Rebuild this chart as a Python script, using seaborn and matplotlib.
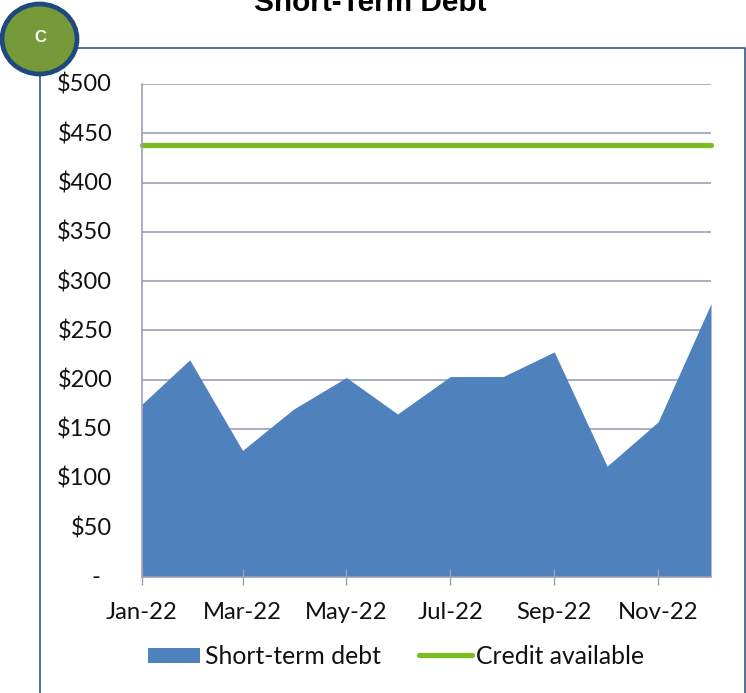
import matplotlib
matplotlib.use("Agg")
import matplotlib.pyplot as plt
import matplotlib.ticker as mticker
import matplotlib.transforms as mtransforms
from matplotlib.patches import Ellipse, Rectangle
from matplotlib.lines import Line2D
import pandas as pd
import seaborn as sns

months = ["2022-01-31", "2022-02-28", "2022-03-31", "2022-04-30", "2022-05-31", "2022-06-30",
          "2022-07-31", "2022-08-31", "2022-09-30", "2022-10-31", "2022-11-30", "2022-12-31"]
short_term_debt = [175, 220, 128, 170, 202, 165, 203, 203, 228, 112, 157, 277]
credit_available = [438] * 12
y_ticks = [0, 50, 100, 150, 200, 250, 300, 350, 400, 450, 500]
y_labels = ["-", "$50", "$100", "$150", "$200", "$250", "$300", "$350", "$400", "$450", "$500"]
x_ticks = ["2022-01-31", "2022-03-31", "2022-05-31", "2022-07-31", "2022-09-30", "2022-11-30"]
x_labels = ["Jan-22", "Mar-22", "May-22", "Jul-22", "Sep-22", "Nov-22"]

sns.set_theme(style="white")
plt.rcParams["font.family"] = ["Lato", "DejaVu Sans"]

W, H = 746, 693
df = pd.DataFrame({"month": pd.to_datetime(months), "debt": short_term_debt, "credit": credit_available})

fig = plt.figure(figsize=(W / 100, H / 100), dpi=100, facecolor="white")
ax = fig.add_axes([142 / W, 1 - 576.5 / H, (711 - 142) / W, 492.5 / H])

GRID = "#9C9FB6"
BLUE = "#4F81BD"
GREEN = "#7CBB22"
TEXT = "#111111"

ax.set_axisbelow(True)
ax.yaxis.grid(True, color=GRID, lw=1.2)
ax.xaxis.grid(False)
ax.fill_between(df["month"], df["debt"], 0, color=BLUE, lw=0, zorder=2)
sns.lineplot(data=df, x="month", y="credit", color=GREEN, lw=3.8, ax=ax, zorder=3,
             solid_capstyle="round", legend=False, clip_on=False)

ax.set_xlim(df["month"].iloc[0], df["month"].iloc[-1])
ax.set_ylim(0, 500)
ax.set_xlabel("")
ax.set_ylabel("")
ax.set_yticks(y_ticks)
ax.set_yticklabels(y_labels, fontsize=17, color=TEXT)
ax.set_xticks(pd.to_datetime(x_ticks))
ax.set_xticklabels(x_labels, fontsize=17.2, color=TEXT)
ax.xaxis.set_minor_locator(mticker.NullLocator())
ax.tick_params(axis="y", length=0, pad=21.5)
ax.tick_params(axis="x", length=11.5, width=1.0, color=GRID, direction="inout", pad=12.5, bottom=True)
ax.xaxis.set_zorder(5)
for t, lab in zip(ax.get_yticklabels(), y_labels):
    t.set_ha("right")
    t.set_va("center")
    dx = -12 if lab == "-" else 0
    t.set_transform(t.get_transform() + mtransforms.Affine2D().translate(dx, -1))
for s in ["top", "right"]:
    ax.spines[s].set_visible(False)
for s in ["left", "bottom"]:
    ax.spines[s].set_color(GRID)
    ax.spines[s].set_linewidth(1.2)
    ax.spines[s].set_zorder(4)

# outer frame, title and badge in pixel coordinates
ov = fig.add_axes([0, 0, 1, 1], facecolor="none")
ov.set_xlim(0, W)
ov.set_ylim(H, 0)
ov.axis("off")
NAVY = "#1F497D"
ov.add_line(Line2D([40, 40, 745, 745], [H + 5, 48, 48, H + 5], color=NAVY, lw=1.1))
ov.add_patch(Ellipse((39.5, 39), 75, 70, facecolor="#769A3A", edgecolor=NAVY, lw=3.4, zorder=5))
ov.text(40, 38, "C", color="white", fontsize=12, fontweight="bold", family="Liberation Sans",
        ha="center", va="center", zorder=6)
ov.text(370, 11, "Short-Term Debt", color="black", fontsize=21.4, fontweight="bold",
        family="Liberation Sans", ha="center", va="baseline")

# legend
ov.add_patch(Rectangle((148, 648), 52, 15, facecolor=BLUE, lw=0))
ov.text(205, 656, "Short-term debt", fontsize=17.8, color=TEXT, va="center", ha="left")
ov.add_line(Line2D([419, 472], [655, 655], color=GREEN, lw=3.8, solid_capstyle="round"))
ov.text(476, 656, "Credit available", fontsize=17.8, color=TEXT, va="center", ha="left")

fig.savefig("out.png", dpi=100)
